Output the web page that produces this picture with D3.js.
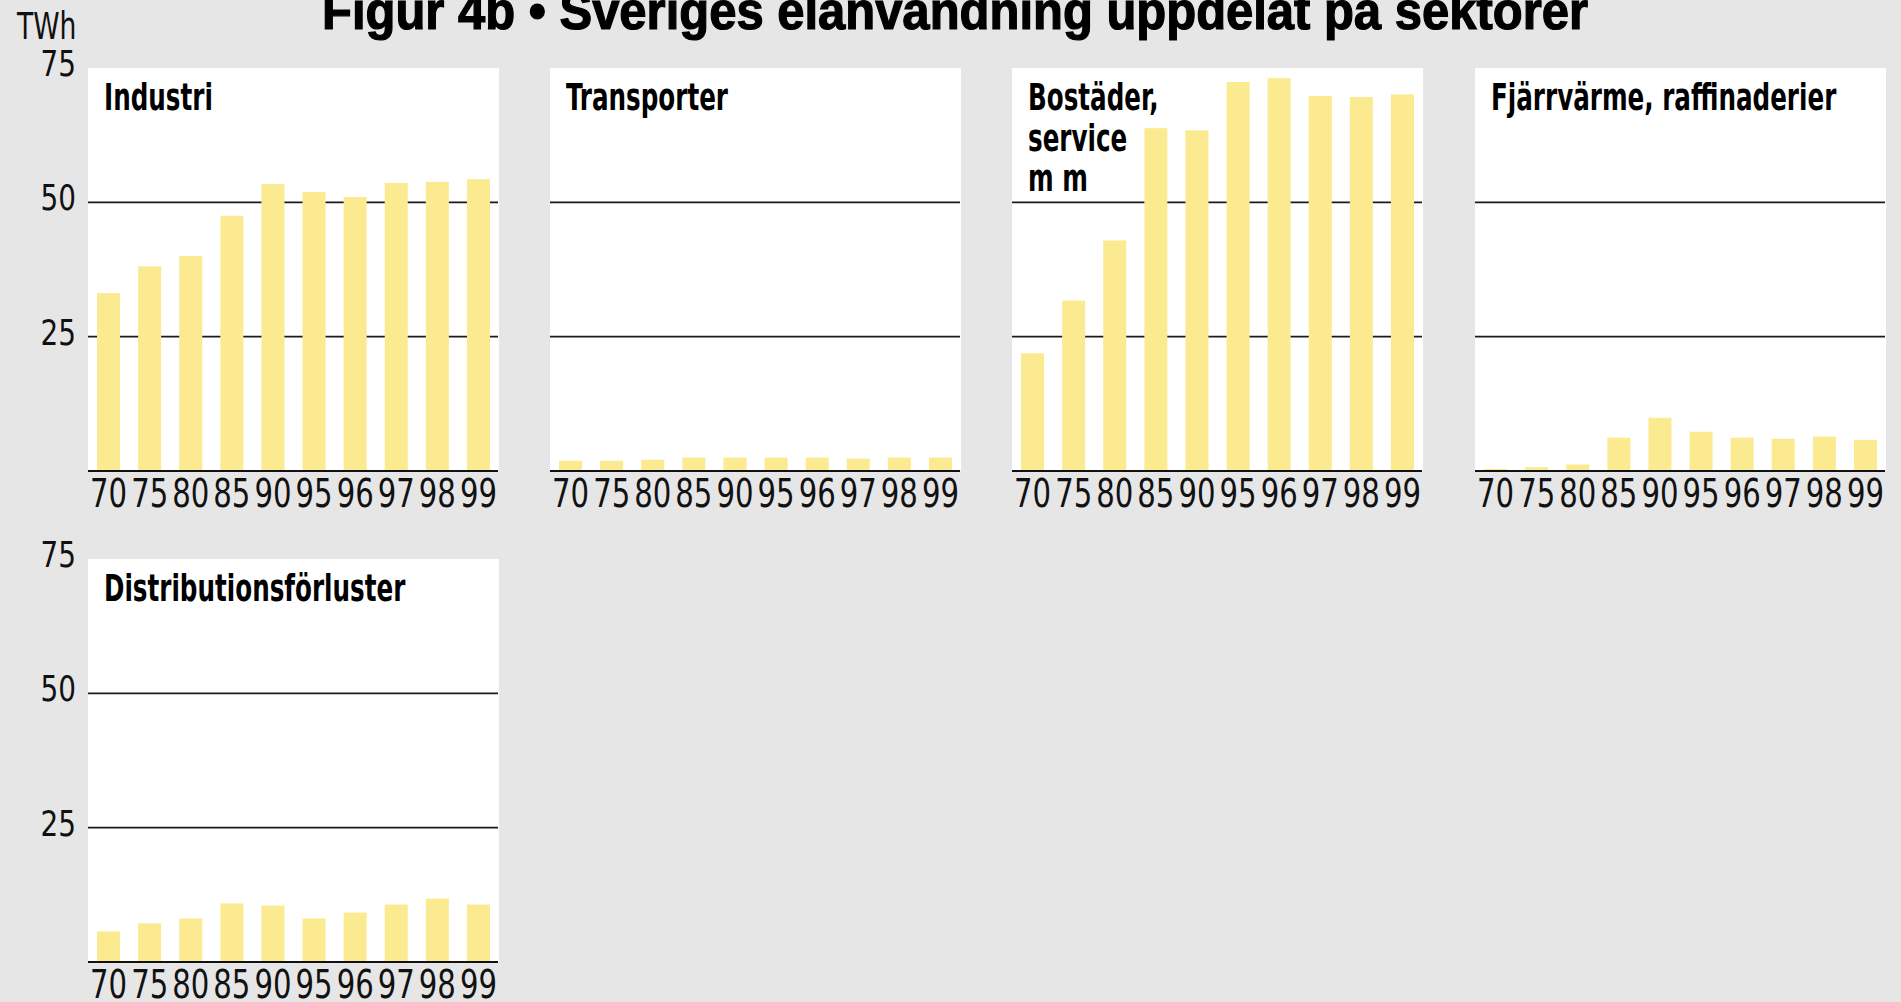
<!DOCTYPE html>
<html>
<head>
<meta charset="utf-8">
<script src="https://cdn.jsdelivr.net/npm/d3@7"></script>
<style>
  html, body { margin: 0; padding: 0; background: #e6e6e6; }
  svg { display: block; }
</style>
</head>
<body>
<svg id="chart" width="1901" height="1002"></svg>
<script>
// ---- data ----
const years = ["70", "75", "80", "85", "90", "95", "96", "97", "98", "99"];
const industri = [33.1, 38.1, 40.0, 47.5, 53.4, 51.9, 51.0, 53.6, 53.8, 54.3];
const transporter = [1.9, 1.9, 2.1, 2.5, 2.5, 2.5, 2.5, 2.3, 2.5, 2.5];
const bostader = [21.9, 31.7, 42.9, 63.8, 63.4, 72.4, 73.1, 69.8, 69.6, 70.1];
const fjarrvarme = [0.4, 0.7, 1.2, 6.2, 9.9, 7.3, 6.2, 6.0, 6.4, 5.8];
const distribution = [5.7, 7.2, 8.1, 10.9, 10.5, 8.1, 9.2, 10.7, 11.8, 10.7];
const yTicks = [25, 50, 75];
const sectorNames = [
  ["Industri"],
  ["Transporter"],
  ["Bostäder,", "service", "m m"],
  ["Fjärrvärme, raffinaderier"],
  ["Distributionsförluster"]
];
const sectorValues = [industri, transporter, bostader, fjarrvarme, distribution];
const titleText = "Figur 4b • Sveriges elanvändning uppdelat på sektorer";
const unitText = "TWh";

// ---- layout ----
const W = 1901, H = 1002;
const panelW = 411, panelH = 403;
const colX = [88, 550, 1012, 1475];
const rowY = [68, 559];
const barColor = "#fbea90";
const bg = "#e6e6e6";
const narrow = "'Liberation Sans Narrow', 'DejaVu Sans Condensed', 'DejaVu Sans', sans-serif";

// horizontally condense a text element to a fraction of its natural width
function squeeze(sel, factor) {
  sel.each(function () {
    const w = this.getComputedTextLength();
    if (w > 0) {
      d3.select(this).attr("textLength", w * factor).attr("lengthAdjust", "spacingAndGlyphs");
    }
  });
}

const svg = d3.select("#chart");
svg.append("rect").attr("width", W).attr("height", H).attr("fill", bg);

svg.append("text")
  .attr("x", 322).attr("y", 29)
  .attr("textLength", 1266).attr("lengthAdjust", "spacingAndGlyphs")
  .attr("font-family", "'Liberation Sans', Arial, sans-serif")
  .attr("font-weight", "bold").attr("font-size", 51)
  .attr("fill", "#000").attr("stroke", "#000").attr("stroke-width", 1.2)
  .text(titleText);

svg.append("text")
  .attr("x", 17).attr("y", 39)
  .attr("font-family", narrow).attr("font-size", 37)
  .attr("fill", "#111")
  .text(unitText)
  .call(squeeze, 0.8);

const y = d3.scaleLinear().domain([0, 75]).range([panelH, 0]);
const x = d3.scaleBand().domain(years).range([0, panelW]).paddingInner(0.44).paddingOuter(0.22);

sectorValues.forEach((vals, i) => {
  const col = i % 4, row = Math.floor(i / 4);
  const g = svg.append("g").attr("transform", `translate(${colX[col]},${rowY[row]})`);

  g.append("rect").attr("width", panelW).attr("height", panelH).attr("fill", "#fff");

  // grid lines
  g.selectAll("line.grid").data(yTicks.filter(t => t < 75)).join("line")
    .attr("class", "grid")
    .attr("x1", 0).attr("x2", panelW - 1)
    .attr("y1", d => y(d)).attr("y2", d => y(d))
    .attr("stroke", "#1a1a1a").attr("stroke-width", 1.6);

  // bars
  g.selectAll("rect.bar").data(vals).join("rect")
    .attr("class", "bar")
    .attr("x", (d, j) => x(years[j]))
    .attr("width", x.bandwidth())
    .attr("y", d => y(d))
    .attr("height", d => y(0) - y(d))
    .attr("fill", barColor);

  // baseline
  g.append("line")
    .attr("x1", 0).attr("x2", panelW - 1)
    .attr("y1", y(0)).attr("y2", y(0))
    .attr("stroke", "#111").attr("stroke-width", 2);

  // x labels
  const xAxis = g.append("g").attr("transform", `translate(0,${panelH})`)
    .call(d3.axisBottom(x).tickSize(0).tickPadding(0));
  xAxis.select(".domain").remove();
  xAxis.selectAll("text")
    .attr("dy", null).attr("y", 36)
    .attr("font-family", narrow).attr("font-size", 39)
    .attr("fill", "#111")
    .call(squeeze, 0.83);

  // y labels on first column
  if (col === 0) {
    const yAxis = g.append("g")
      .call(d3.axisLeft(y).tickValues(yTicks).tickSize(0).tickPadding(12));
    yAxis.select(".domain").remove();
    yAxis.selectAll("text")
      .attr("dy", "7.5px")
      .attr("font-family", narrow).attr("font-size", 36)
      .attr("fill", "#111")
      .call(squeeze, 0.86);
  }

  // panel title
  g.append("text")
    .attr("x", 16).attr("y", 42)
    .attr("font-family", narrow).attr("font-weight", "bold").attr("font-size", 38)
    .attr("fill", "#000")
    .selectAll("tspan").data(sectorNames[i]).join("tspan")
    .attr("x", 16).attr("dy", (d, k) => k === 0 ? 0 : 40.5)
    .text(d => d)
    .call(squeeze, 0.72);
});
</script>
</body>
</html>
